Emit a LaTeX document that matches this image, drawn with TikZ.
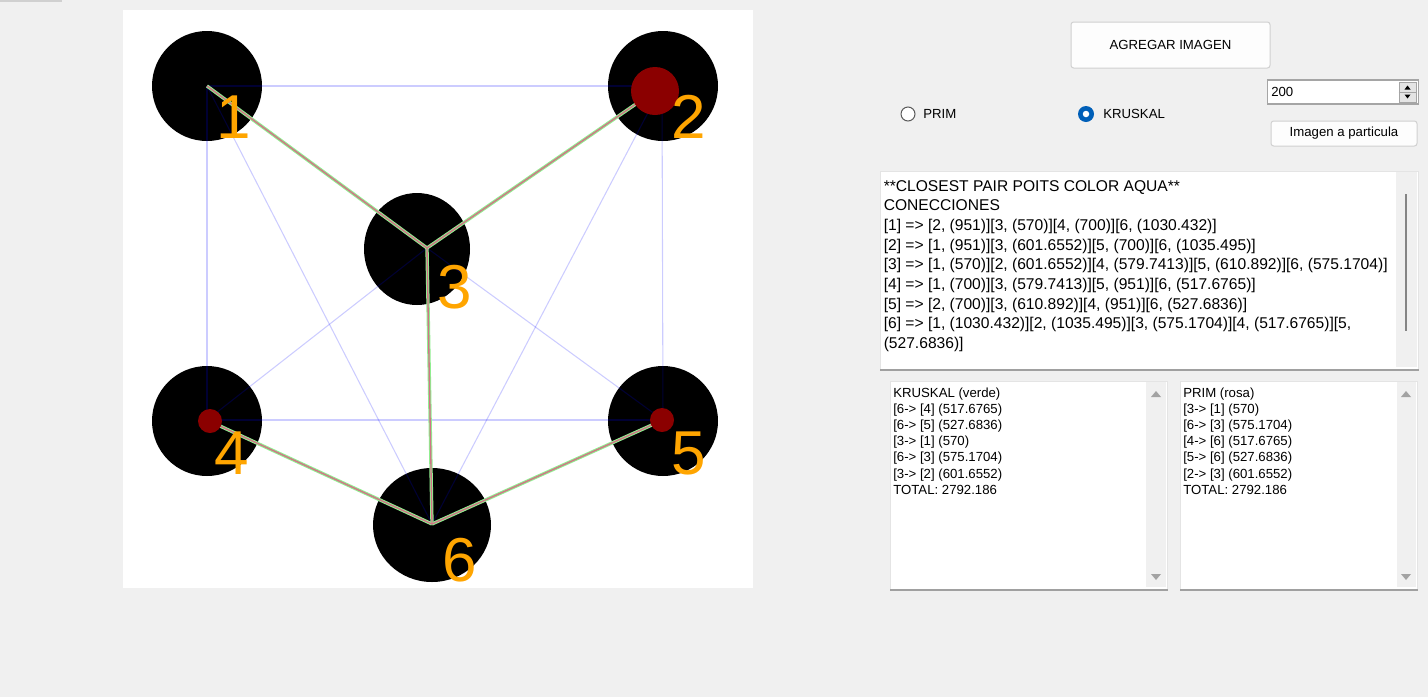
\documentclass[tikz,border=0pt]{standalone}
\usepackage{fontspec}
\setmainfont{Liberation Sans}
\usetikzlibrary{shapes.geometric}
\definecolor{bgc}{RGB}{240,240,240}
\definecolor{kgreen}{RGB}{144,238,144}
\definecolor{prose}{RGB}{210,115,135}
\definecolor{dotred}{RGB}{139,0,0}
\definecolor{labor}{RGB}{255,165,0}
\definecolor{btnborder}{RGB}{208,208,208}
\definecolor{btnfill}{RGB}{253,253,253}
\definecolor{radgray}{RGB}{90,90,90}
\definecolor{radblue}{RGB}{0,95,184}
\definecolor{spinborder}{RGB}{165,165,165}
\definecolor{spinfill}{RGB}{228,228,228}
\definecolor{boxborder}{RGB}{228,228,228}
\definecolor{boxbottom}{RGB}{160,160,160}
\definecolor{sbfill}{RGB}{240,240,240}
\definecolor{sbthumb}{RGB}{133,133,133}
\definecolor{sbarrow}{RGB}{163,163,163}
\definecolor{topline}{RGB}{208,208,208}
\begin{document}
\begin{tikzpicture}[x=0.75pt,y=-0.75pt,
  disc/.style={ellipse, fill=black, inner sep=0pt, outer sep=0pt},
  reddot/.style={circle, fill=dotred, inner sep=0pt, outer sep=0pt},
  numlab/.style={anchor=base, text=labor, inner sep=0pt, font=\fontsize{46.5pt}{46.5pt}\selectfont},
  alledge/.style={draw=blue, draw opacity=0.2, line width=0.8pt},
  kedge/.style={draw=kgreen, line width=2.5pt},
  pedge/.style={draw=prose, line width=1pt},
  ui/.style={inner sep=0pt, text=black, font=\fontsize{9.9pt}{12pt}\selectfont},
  tbline/.style={ui, anchor=base west, font=\fontsize{11.7pt}{14pt}\selectfont},
  lbline/.style={ui, anchor=base west},
  btn/.style={draw=btnborder, fill=btnfill, rounded corners=2pt, line width=0.75pt, ui},
  panel/.style={draw=boxborder, fill=white, line width=0.75pt, inner sep=0pt, anchor=north west},
  bottomedge/.style={draw=boxbottom, line width=1.5pt},
  sbar/.style={fill=sbfill},
  sarrow/.style={fill=sbarrow}
]
\useasboundingbox (0,0) rectangle (1428,697);
\fill[bgc] (0,0) rectangle (1428,697);
\draw[topline, line width=1.5pt] (0,0.5) -- (62,0.5);

% canvas
\fill[white] (123,10) rectangle (753,588);

% discs
\node[disc, minimum width={110*0.75pt}, minimum height={110*0.75pt}] (c1) at (207,86) {};
\node[disc, minimum width={110*0.75pt}, minimum height={110*0.75pt}] (c2) at (663,86) {};
\node[disc, minimum width={106*0.75pt}, minimum height={112*0.75pt}] (c3) at (417,249) {};
\node[disc, minimum width={110*0.75pt}, minimum height={110*0.75pt}] (c4) at (207,421) {};
\node[disc, minimum width={110*0.75pt}, minimum height={110*0.75pt}] (c5) at (663,421) {};
\node[disc, minimum width={118*0.75pt}, minimum height={114*0.75pt}] (c6) at (432,525) {};

% vertices
\coordinate (v1) at (207,86);
\coordinate (v2) at (662,86);
\coordinate (v3) at (427,248);
\coordinate (v4) at (207,420);
\coordinate (v5) at (663,420);
\coordinate (v6) at (432,524);

% all connections
\foreach \a/\b in {1/2,1/3,1/4,1/6,2/3,2/5,2/6,3/4,3/5,3/6,4/5,4/6,5/6}
  \draw[alledge] (v\a) -- (v\b);

% spanning tree: Kruskal (green) and Prim (pink)
\foreach \a/\b in {3/1,3/2,3/6,6/4,6/5}
  \draw[kedge] (v\a) -- (v\b);
\foreach \a/\b in {3/1,3/2,3/6,6/4,6/5}
  \draw[pedge] (v\a) -- (v\b);

% red dots
\node[reddot, minimum size={48*0.75pt}] (r2) at (655,91) {};
\node[reddot, minimum size={24*0.75pt}] (r4) at (210,421) {};
\node[reddot, minimum size={24*0.75pt}] (r5) at (662,420) {};

% labels
\node[numlab] (l1) at (234,138) {1};
\node[numlab] (l2) at (689,138) {2};
\node[numlab] (l3) at (455,308) {3};
\node[numlab] (l4) at (232,474) {4};
\node[numlab] (l5) at (689,474) {5};
\node[numlab] (l6) at (460,581) {6};

% ---------- right panel ----------
\node[btn, minimum width={199*0.75pt}, minimum height={46*0.75pt}] (badd) at (1170.5,45) {AGREGAR IMAGEN};

\node[circle, draw=radgray, fill=white, line width=0.75pt, inner sep=0pt, minimum size={14*0.75pt}] (rprim) at (908,114) {};
\node[ui, anchor=west] (tprim) at (923,114) {PRIM};
\node[circle, fill=radblue, inner sep=0pt, minimum size={16*0.75pt}] (rkr) at (1086,114) {};
\node[circle, fill=white, inner sep=0pt, minimum size={6.5*0.75pt}] (rkrin) at (rkr) {};
\node[ui, anchor=west] (tkr) at (1103,114) {KRUSKAL};

% numeric up-down
\node[draw=spinborder, fill=white, line width=1.1pt, inner sep=0pt, minimum width={151*0.75pt}, minimum height={24*0.75pt}] (spin) at (1343,92) {};
\node[ui, anchor=west] (spintxt) at (1271,92) {200};
\node[draw=spinborder, fill=spinfill, line width=0.6pt, inner sep=0pt, minimum width={17*0.75pt}, minimum height={20*0.75pt}] (spinbtn) at (1407.5,92) {};
\draw[spinborder, line width=0.6pt] (spinbtn.west) -- (spinbtn.east);
\fill[black] (1404.5,89.5) -- (1410.5,89.5) -- (1407.5,85.5) -- cycle;
\fill[black] (1404.5,94.5) -- (1410.5,94.5) -- (1407.5,98.5) -- cycle;

\node[btn, minimum width={146*0.75pt}, minimum height={25*0.75pt}] (bimg) at (1344,133.5) {Imagen a particula};

% connections text box
\node[panel, minimum width={538*0.75pt}, minimum height={198*0.75pt}] (tbox) at (880,171) {};
\draw[bottomedge] (tbox.south west) -- (tbox.south east);
\fill[sbar] (1396,172) rectangle (1417,367);
\draw[sbthumb, line width=2.2pt] (1406,194) -- (1406,331);
\foreach \txt [count=\i] in {
  {**CLOSEST PAIR POITS COLOR AQUA**},
  {CONECCIONES},
  {[1] => [2, (951)][3, (570)][4, (700)][6, (1030.432)]},
  {[2] => [1, (951)][3, (601.6552)][5, (700)][6, (1035.495)]},
  {[3] => [1, (570)][2, (601.6552)][4, (579.7413)][5, (610.892)][6, (575.1704)]},
  {[4] => [1, (700)][3, (579.7413)][5, (951)][6, (517.6765)]},
  {[5] => [2, (700)][3, (610.892)][4, (951)][6, (527.6836)]},
  {[6] => [1, (1030.432)][2, (1035.495)][3, (575.1704)][4, (517.6765)][5,},
  {(527.6836)]}}
  \node[tbline] (tb\i) at (883.5,{191+(\i-1)*19.7}) {\txt};

% Kruskal list
\node[panel, minimum width={277*0.75pt}, minimum height={208*0.75pt}] (kbox) at (890,381) {};
\draw[bottomedge] (kbox.south west) -- (kbox.south east);
\fill[sbar] (1146,382) rectangle (1166,587);
\fill[sarrow] (1151,397) -- (1161,397) -- (1156,391) -- cycle;
\fill[sarrow] (1151,574) -- (1161,574) -- (1156,580) -- cycle;
\foreach \txt [count=\i] in {
  {KRUSKAL (verde)},
  {[6-> [4] (517.6765)},
  {[6-> [5] (527.6836)},
  {[3-> [1] (570)},
  {[6-> [3] (575.1704)},
  {[3-> [2] (601.6552)},
  {TOTAL: 2792.186}}
  \node[lbline] (kl\i) at (893,{397+(\i-1)*16.2}) {\txt};

% Prim list
\node[panel, minimum width={237*0.75pt}, minimum height={208*0.75pt}] (pbox) at (1180,381) {};
\draw[bottomedge] (pbox.south west) -- (pbox.south east);
\fill[sbar] (1397,382) rectangle (1416,587);
\fill[sarrow] (1401,397) -- (1411,397) -- (1406,391) -- cycle;
\fill[sarrow] (1401,574) -- (1411,574) -- (1406,580) -- cycle;
\foreach \txt [count=\i] in {
  {PRIM (rosa)},
  {[3-> [1] (570)},
  {[6-> [3] (575.1704)},
  {[4-> [6] (517.6765)},
  {[5-> [6] (527.6836)},
  {[2-> [3] (601.6552)},
  {TOTAL: 2792.186}}
  \node[lbline] (pl\i) at (1183,{397+(\i-1)*16.2}) {\txt};
\end{tikzpicture}
\end{document}
